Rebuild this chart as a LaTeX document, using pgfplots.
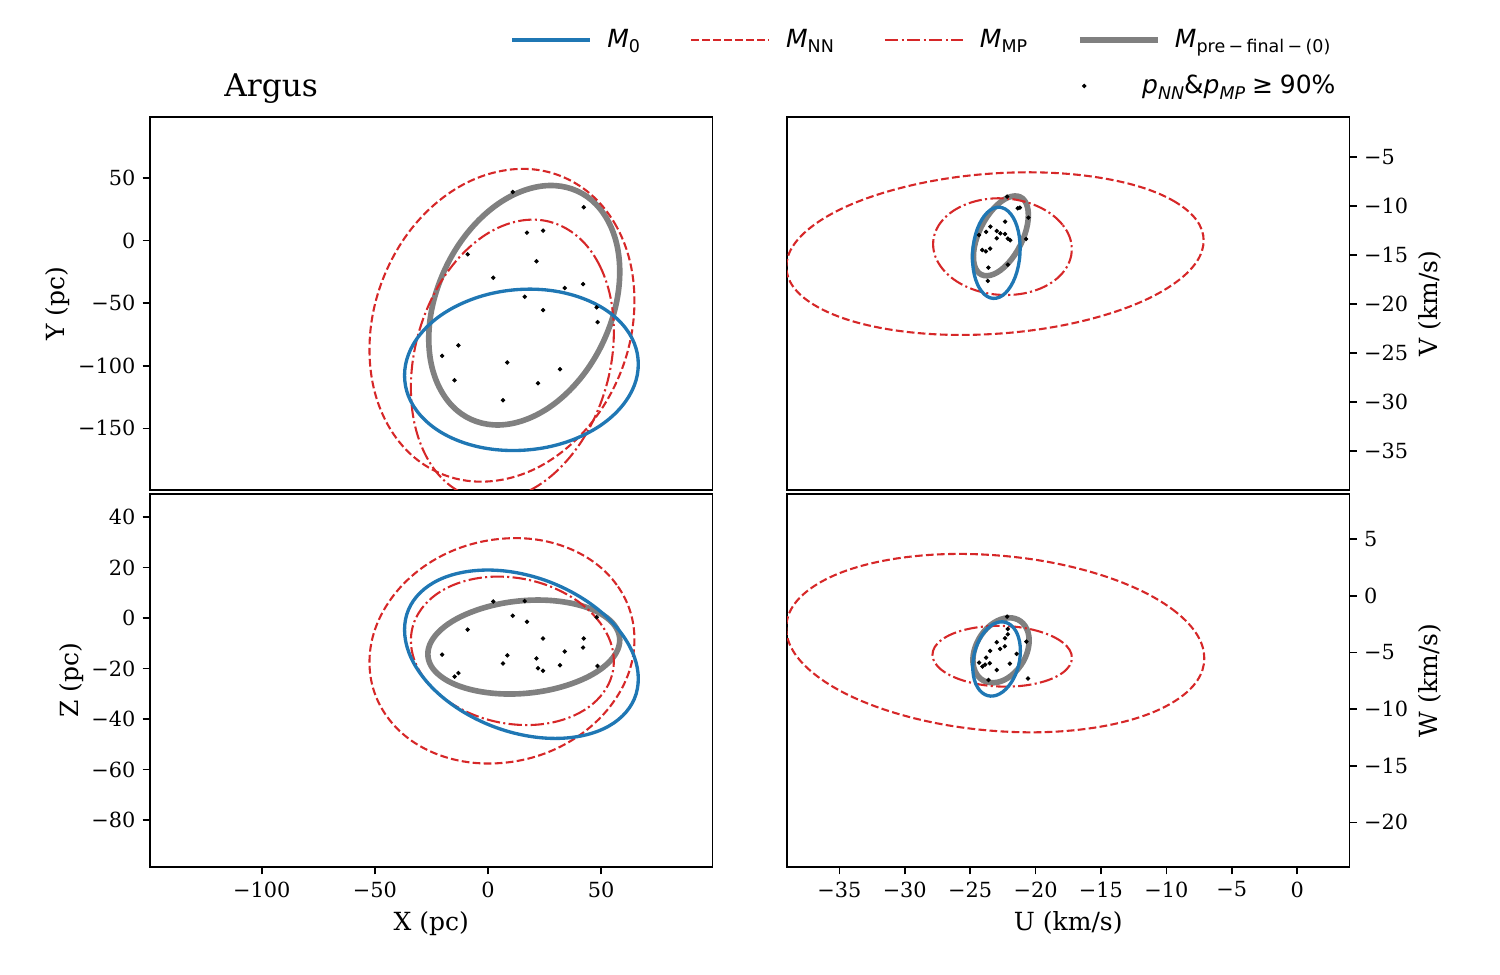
\documentclass[border=0pt]{standalone}
\usepackage{fontspec}
\setmainfont{DejaVu Serif}
\newfontfamily\legendfont{DejaVu Sans}
\usepackage{pgfplots}
\pgfplotsset{compat=1.18}

\definecolor{tabblue}{HTML}{1F77B4}
\definecolor{tabred}{HTML}{D62728}
\definecolor{pregray}{HTML}{808080}

\newcommand\lsub[1]{\raisebox{-2.6pt}{\fontsize{8.4}{9}\selectfont #1}}

\pgfplotsset{
  panel/.style={
    scale only axis, width=270pt, height=179.04pt, anchor=south west,
    axis line style={line width=0.8pt},
    every tick/.style={line width=0.8pt, black},
    major tick length=3.5pt, tick align=outside,
    ticklabel style={font=\fontsize{10}{12}\selectfont},
    xlabel style={font=\fontsize{12}{14}\selectfont},
    minor tick num=0,
  },
  ylab/.style={ylabel near ticks, ylabel style={font=\fontsize{12}{14}\selectfont}, ylabel shift=#1},
  ell/.style={smooth cycle, tension=0.64},
  m0/.style={color=tabblue, line width=1.6pt},
  mnn/.style={color=tabred, line width=1pt, dash pattern=on 3.7pt off 1.6pt},
  mmp/.style={color=tabred, line width=1pt, dash pattern=on 6.4pt off 1.6pt on 1pt off 1.6pt},
  mpre/.style={color=pregray, line width=2.7pt},
  star/.style={only marks, mark=*, mark size=0.85pt, black, mark options={draw=black, fill=black}},
}

% members in the galactic position frame (pc)
\pgfplotstableread{
x y z
10.9 38.9 0.9
42.3 26.7 -8.1
17.2 6.4 -1.5
24.3 8.0 -8.1
-9.0 -10.9 -4.6
21.4 -16.5 -16.0
2.3 -29.6 6.5
33.9 -37.9 -13.3
42.0 -34.7 -11.7
16.2 -44.8 6.7
48.0 -53.3 0.3
24.3 -55.5 -20.9
48.4 -65.1 -19.0
-13.1 -83.7 -21.8
-20.3 -92.0 -14.5
8.5 -97.3 -14.8
31.8 -102.7 -18.7
-14.8 -111.5 -23.2
22.1 -113.9 -19.9
6.6 -127.5 -18.0
}\starsXYZ

% members in velocity space (km/s)
\pgfplotstableread{
u v
-22.17 -9.05
-21.20 -10.17
-21.36 -10.24
-20.54 -11.19
-22.33 -11.60
-23.45 -12.11
-24.32 -12.96
-23.78 -12.65
-22.97 -12.55
-22.69 -12.79
-22.33 -12.86
-22.97 -13.30
-22.12 -13.33
-21.94 -13.50
-20.72 -13.37
-24.08 -14.49
-23.80 -14.63
-23.47 -14.35
-23.60 -16.29
-22.12 -15.99
-23.65 -17.65
}\starsUV

\pgfplotstableread{
u w
-22.17 -1.83
-22.12 -2.92
-22.12 -3.39
-22.33 -3.74
-20.70 -4.03
-22.97 -4.09
-22.35 -4.45
-22.71 -4.68
-23.47 -4.86
-21.44 -5.12
-23.78 -5.45
-24.32 -5.89
-23.50 -5.95
-23.86 -6.07
-24.06 -6.24
-21.97 -5.98
-22.97 -6.54
-20.58 -7.30
-23.60 -7.42
}\starsUW

\begin{document}
\begin{tikzpicture}
\useasboundingbox (0,0) rectangle (720pt,468pt);

% ---------------- X - Y ----------------
\begin{axis}[panel, at={(72pt,232.8pt)},
  xmin=-149.4, xmax=99.2, ymin=-199.2, ymax=98.8,
  xtick=\empty,
  ytick={-150,-100,-50,0,50}, yticklabels={−150,−100,−50,0,50}, ytick pos=left,
  ylabel={Y (pc)}, ylab=-3pt,
  title={Argus},
  every axis title/.style={at={(axis description cs:0.2153,1)}, anchor=base, yshift=9.6pt,
    font=\fontsize{15}{18}\selectfont},
  legend columns=4,
  legend image code/.code={\draw[#1] (0pt,0pt) -- (37.4pt,0pt); \path[draw=none] (37.4pt,0pt) -- (45.6pt,0pt);},
  legend style={draw=none, fill=none, at={(axis description cs:0.6406,1.2064)}, anchor=west,
    inner sep=0pt, nodes={inner sep=0pt}, legend cell align=left,
    font=\legendfont\fontsize{12}{14}\selectfont,
    /tikz/every even column/.append style={column sep=24pt}},
]
\addlegendimage{m0}
\addlegendentry{\textit{M}\lsub{0}}
\addlegendimage{mnn}
\addlegendentry{\textit{M}\lsub{NN}}
\addlegendimage{mmp}
\addlegendentry{\textit{M}\lsub{MP}}
\addlegendimage{mpre}
\addlegendentry{\textit{M}\lsub{pre\hspace{1.6pt}−\hspace{1.6pt}final\hspace{1.6pt}−\hspace{1.6pt}(0)}}
% pre-final
\addplot[mpre, ell, forget plot] coordinates {(58.2,-24.8) (52.5,17.5) (37.1,41.3) (16.0,40.2) (-5.1,14.5) (-20.5,-28.9) (-26.2,-78.4) (-20.5,-120.7) (-5.1,-144.5) (16.0,-143.4) (37.1,-117.7) (52.5,-74.3)};
% NN
\addplot[mnn, ell, forget plot] coordinates {(64.7,-48.2) (56.9,10.9) (35.4,49.0) (6.2,55.8) (-23.2,29.6) (-44.6,-22.7) (-52.4,-87.0) (-44.6,-146.1) (-23.2,-184.2) (6.2,-191.0) (35.4,-164.8) (56.9,-112.5)};
% MP
\addplot[mmp, ell, forget plot] coordinates {(55.6,-72.8) (49.6,-20.9) (33.2,11.0) (10.8,14.5) (-11.7,-11.4) (-28.1,-59.7) (-34.1,-117.6) (-28.1,-169.5) (-11.7,-201.4) (10.8,-204.9) (33.2,-179.0) (49.6,-130.7)};
% M0
\addplot[m0, ell, forget plot] coordinates {(66.4,-98.7) (59.5,-67.1) (40.6,-45.3) (14.8,-38.9) (-11.1,-49.8) (-30.0,-74.9) (-36.9,-107.7) (-30.0,-139.3) (-11.1,-161.2) (14.8,-167.5) (40.6,-156.7) (59.5,-131.5)};
\addplot[star, forget plot] table[x=x, y=y] {\starsXYZ};
\end{axis}

% ---------------- X - Z ----------------
\begin{axis}[panel, at={(72pt,51.84pt)},
  xmin=-149.4, xmax=99.2, ymin=-98.6, ymax=49.1,
  xtick={-100,-50,0,50}, xticklabels={−100,−50,0,50}, xtick pos=bottom,
  ytick={-80,-60,-40,-20,0,20,40}, yticklabels={−80,−60,−40,−20,0,20,40}, ytick pos=left,
  xlabel={X (pc)}, ylabel={Z (pc)}, ylab=-3pt,
]
\addplot[mpre, ell] coordinates {(58.2,-8.7) (52.5,0.1) (37.0,5.8) (15.8,6.9) (-5.4,3.0) (-20.9,-4.7) (-26.6,-14.3) (-20.9,-23.1) (-5.4,-28.8) (15.8,-29.9) (37.0,-26.0) (52.5,-18.3)};
\addplot[mnn, ell] coordinates {(64.7,-8.5) (56.9,13.1) (35.4,27.7) (6.2,31.4) (-23.2,23.3) (-44.6,5.3) (-52.4,-17.5) (-44.6,-39.1) (-23.2,-53.7) (6.2,-57.4) (35.4,-49.3) (56.9,-31.3)};
\addplot[mmp, ell] coordinates {(55.6,-17.1) (49.6,-2.0) (33.2,10.15) (10.8,16.1) (-11.7,14.25) (-28.1,5.1) (-34.1,-8.9) (-28.1,-24.0) (-11.7,-36.15) (10.8,-42.1) (33.2,-40.25) (49.6,-31.1)};
\addplot[m0, ell] coordinates {(66.4,-24.05) (59.5,-6.8) (40.6,8.4) (14.8,17.55) (-11.1,18.1) (-30.0,10.0) (-36.9,-4.65) (-30.0,-21.9) (-11.1,-37.1) (14.8,-46.25) (40.6,-46.8) (59.5,-38.7)};
\addplot[star] table[x=x, y=z] {\starsXYZ};
\end{axis}

% ---------------- U - V ----------------
\begin{axis}[panel, at={(377.76pt,232.8pt)},
  xmin=-39.0, xmax=4.0, ymin=-38.98, ymax=-0.92,
  xtick=\empty,
  ytick={-35,-30,-25,-20,-15,-10,-5}, yticklabels={−35,−30,−25,−20,−15,−10,−5},
  ytick pos=right, yticklabel pos=right,
  ylabel={V (km/s)}, ylab=-2pt,
  legend image code/.code={\draw[#1] plot coordinates {(0pt,0pt)}; \path[draw=none] (-1pt,0pt) -- (27.8pt,0pt);},
  legend style={draw=none, fill=none, at={(axis description cs:0.5240,1.0831)}, anchor=west,
    inner sep=0pt, nodes={inner sep=0pt}, legend cell align=left,
    font=\legendfont\fontsize{12}{14}\selectfont},
]
\addlegendimage{star}
\addlegendentry{\textit{p}\lsub{\textit{NN}}\&\textit{p}\lsub{\textit{MP}}\hspace{3.3pt}≥\hspace{3.3pt}90\%}
\addplot[mpre, ell, forget plot] coordinates {(-20.55,-10.93) (-20.83,-9.47) (-21.60,-8.98) (-22.65,-9.57) (-23.70,-11.10) (-24.47,-13.15) (-24.75,-15.17) (-24.47,-16.63) (-23.70,-17.12) (-22.65,-16.53) (-21.60,-15.0) (-20.83,-12.95)};
\addplot[mnn, ell, forget plot] coordinates {(-7.15,-13.53) (-9.29,-9.61) (-15.12,-7.11) (-23.1,-6.67) (-31.08,-8.44) (-36.91,-11.91) (-39.05,-16.19) (-36.91,-20.11) (-31.08,-22.62) (-23.1,-23.05) (-15.12,-21.29) (-9.29,-17.81)};
\addplot[mmp, ell, forget plot] coordinates {(-17.23,-14.40) (-17.94,-11.91) (-19.88,-10.01) (-22.53,-9.22) (-25.18,-9.76) (-27.12,-11.47) (-27.83,-13.90) (-27.12,-16.40) (-25.18,-18.30) (-22.53,-19.08) (-19.88,-18.55) (-17.94,-16.84)};
\addplot[m0, ell, forget plot] coordinates {(-21.18,-14.32) (-21.42,-12.07) (-22.09,-10.54) (-23.0,-10.15) (-23.91,-11.0) (-24.58,-12.87) (-24.82,-15.25) (-24.58,-17.50) (-23.91,-19.02) (-23.0,-19.41) (-22.09,-18.56) (-21.42,-16.70)};
\addplot[star, forget plot] table[x=u, y=v] {\starsUV};
\end{axis}

% ---------------- U - W ----------------
\begin{axis}[panel, at={(377.76pt,51.84pt)},
  xmin=-39.0, xmax=4.0, ymin=-23.94, ymax=9.0,
  xtick={-35,-30,-25,-20,-15,-10,-5,0}, xticklabels={−35,−30,−25,−20,−15,−10,−5,0}, xtick pos=bottom,
  ytick={-20,-15,-10,-5,0,5}, yticklabels={−20,−15,−10,−5,0,5},
  ytick pos=right, yticklabel pos=right,
  xlabel={U (km/s)}, ylabel={W (km/s)}, ylab=-2pt,
]
\addplot[mpre, ell] coordinates {(-20.49,-3.94) (-20.78,-2.69) (-21.57,-2.0) (-22.64,-2.06) (-23.72,-2.86) (-24.50,-4.18) (-24.79,-5.66) (-24.50,-6.92) (-23.72,-7.60) (-22.64,-7.54) (-21.57,-6.74) (-20.78,-5.43)};
\addplot[mnn, ell] coordinates {(-7.10,-5.51) (-9.24,-1.45) (-15.09,1.88) (-23.08,3.59) (-31.07,3.22) (-36.92,0.87) (-39.06,-2.83) (-36.92,-6.89) (-31.07,-10.22) (-23.08,-11.93) (-15.09,-11.56) (-9.24,-9.21)};
\addplot[mmp, ell] coordinates {(-17.22,-5.46) (-17.93,-4.11) (-19.89,-3.08) (-22.55,-2.65) (-25.22,-2.94) (-27.17,-3.87) (-27.88,-5.20) (-27.17,-6.55) (-25.22,-7.58) (-22.55,-8.01) (-19.89,-7.72) (-17.93,-6.79)};
\addplot[m0, ell] coordinates {(-21.16,-4.85) (-21.40,-3.35) (-22.07,-2.44) (-22.98,-2.37) (-23.89,-3.16) (-24.56,-4.59) (-24.80,-6.29) (-24.56,-7.79) (-23.89,-8.70) (-22.98,-8.77) (-22.07,-7.98) (-21.40,-6.55)};
\addplot[star] table[x=u, y=w] {\starsUW};
\end{axis}
\end{tikzpicture}
\end{document}
